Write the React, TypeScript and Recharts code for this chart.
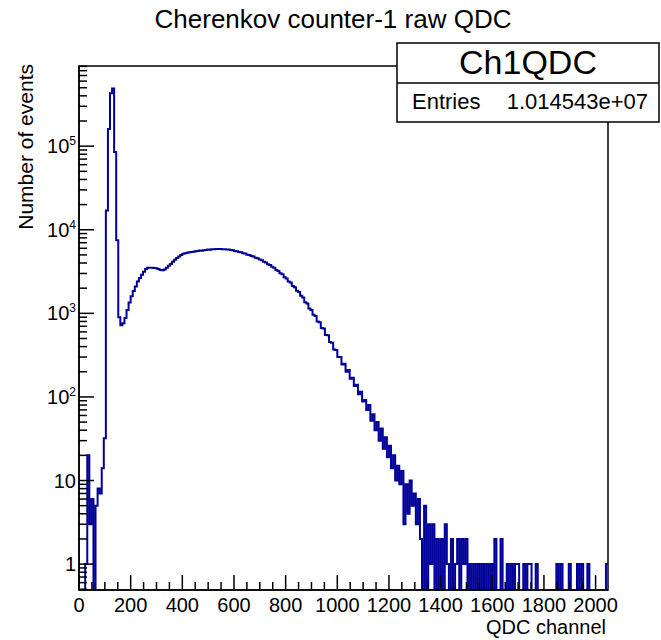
import React from "react";
import { LineChart, Line, XAxis, YAxis, ReferenceArea } from "recharts";

// QDC histogram, 8 channels per bin, 256 bins (0..2048)
const binWidth = 8;
const maxChannel = 2048;

// bins 0..20: pedestal region
const pedestalCounts = [
  0, 0, 0, 1, 20, 3, 6, 0, 5, 8,
  7, 14, 32, 17000, 160000, 430000, 490000, 85000, 7500, 900,
  720,
];

// bins 21..154: photoelectron hump
const signalCounts = [
  760, 880, 1100, 1350, 1600, 1850, 2100, 2400, 2650, 2900,
  3150, 3400, 3500, 3520, 3500, 3480, 3460, 3400, 3300, 3280,
  3350, 3500, 3700, 3900, 4150, 4380, 4580, 4800, 5000, 5150,
  5250, 5320, 5380, 5420, 5470, 5520, 5560, 5630, 5610, 5700,
  5720, 5790, 5780, 5850, 5840, 5900, 5870, 5890, 5840, 5860,
  5790, 5800, 5730, 5700, 5580, 5540, 5430, 5380, 5240, 5190,
  5040, 4990, 4850, 4780, 4620, 4560, 4400, 4330, 4150, 4070,
  3870, 3800, 3600, 3510, 3300, 3220, 3020, 2930, 2710, 2620,
  2410, 2340, 2130, 2050, 1860, 1800, 1620, 1550, 1360, 1310,
  1140, 1100, 960, 930, 800, 780, 670, 660, 550, 545,
  455, 445, 370, 365, 300, 300, 245, 250, 200, 210,
  165, 170, 135, 140, 108, 115, 88, 92, 70, 80,
  52, 62, 40, 50, 30, 42, 24, 33, 19, 26,
  14, 20, 10, 15,
];

// bins 155..255: sparse tail
const tailCounts = [
  9, 13, 3, 9, 4, 10, 5, 7, 3, 6,
  2, 0, 5, 0, 3, 1, 3, 0, 2, 0,
  2, 0, 3, 1, 0, 2, 0, 1, 2, 0,
  2, 1, 2, 0, 1, 0, 1, 0, 1, 0,
  1, 0, 1, 0, 1, 0, 2, 0, 0, 2,
  0, 0, 1, 0, 1, 0, 1, 1, 0, 0,
  1, 0, 1, 1, 0, 0, 1, 0, 0, 0,
  0, 0, 0, 0, 0, 0, 1, 0, 1, 0,
  0, 0, 1, 0, 0, 0, 1, 0, 1, 0,
  0, 1, 0, 0, 0, 0, 0, 0, 0, 0,
  1,
];

const xMajorTicks = [0, 200, 400, 600, 800, 1000, 1200, 1400, 1600, 1800, 2000];
const xMinorSteps = [50, 100, 150];
const yDecades = [1, 10, 100, 1000, 10000, 100000];
const yMinorFactors = [2, 3, 4, 5, 6, 7, 8, 9];
const yBelowOne = [0.5, 0.6, 0.7, 0.8, 0.9];
const yMin = 0.49;
const yMax = 910000;
const emptyBin = 0.3; // zero bins drop below the frame (log axis)

const counts = [...pedestalCounts, ...signalCounts, ...tailCounts];
const data = counts.map((c, i) => ({ ch: i * binWidth, n: c > 0 ? c : emptyBin }));
data.push({ ch: maxChannel, n: data[data.length - 1].n });

const xTicks: number[] = [];
xMajorTicks.forEach((t) => {
  xTicks.push(t);
  if (t < 2000) xMinorSteps.forEach((s) => xTicks.push(t + s));
});

const yTicks: number[] = [...yBelowOne];
yDecades.forEach((d) => {
  yTicks.push(d);
  yMinorFactors.forEach((f) => {
    if (d * f <= yMax) yTicks.push(d * f);
  });
});

const font = "'Liberation Sans', Arial, Helvetica, sans-serif";

const XTick = (props: any) => {
  const { x, y, payload } = props;
  const major = payload.value % 200 === 0;
  return (
    <g>
      <line x1={x} x2={x} y1={y} y2={y - (major ? 15 : 8)} stroke="#000" strokeWidth={1.5} />
      {major && (
        <text x={x} y={y + 22} textAnchor="middle" fontSize={20} fontFamily={font} fill="#000">
          {payload.value}
        </text>
      )}
    </g>
  );
};

const YTick = (props: any) => {
  const { x, y, payload } = props;
  const lg = Math.log10(payload.value);
  const e = Math.round(lg);
  const major = Math.abs(lg - e) < 1e-6;
  return (
    <g>
      <line x1={x} x2={x + (major ? 15 : 8)} y1={y} y2={y} stroke="#000" strokeWidth={1.5} />
      {major && (
        <text x={x - 3} y={y + 7} textAnchor="end" fontSize={20} fontFamily={font} fill="#000">
          {e === 0 ? "1" : "10"}
          {e > 1 && (
            <tspan dy={-8} fontSize={12}>
              {e}
            </tspan>
          )}
        </text>
      )}
    </g>
  );
};

export default function App() {
  return (
    <div style={{ position: "absolute", left: 0, top: 0, width: 661, height: 640, background: "#fff" }}>
      <LineChart
        width={661}
        height={640}
        data={data}
        margin={{ top: 66, right: 53, bottom: 0, left: 19 }}
      >
        <XAxis
          dataKey="ch"
          type="number"
          domain={[0, maxChannel]}
          ticks={xTicks}
          interval={0}
          tickSize={0}
          tickMargin={0}
          tickLine={false}
          tick={<XTick />}
          height={50}
          axisLine={{ stroke: "#000", strokeWidth: 1.5 }}
          allowDataOverflow
        />
        <YAxis
          type="number"
          scale="log"
          domain={[yMin, yMax]}
          ticks={yTicks}
          interval={0}
          tickSize={0}
          tickMargin={0}
          tickLine={false}
          tick={<YTick />}
          width={60}
          axisLine={{ stroke: "#000", strokeWidth: 1.5 }}
          allowDataOverflow
        />
        <ReferenceArea
          x1={0}
          x2={maxChannel}
          y1={yMin}
          y2={yMax}
          fill="none"
          stroke="#000"
          strokeWidth={1.5}
        />
        <Line
          dataKey="n"
          type="stepAfter"
          stroke="#000099"
          strokeWidth={2}
          dot={false}
          isAnimationActive={false}
        />
      </LineChart>
      <svg
        width={661}
        height={640}
        style={{ position: "absolute", left: 0, top: 0, pointerEvents: "none" }}
        fontFamily={font}
      >
        <text x={333} y={28} textAnchor="middle" fontSize={26} fill="#000">
          Cherenkov counter-1 raw QDC
        </text>
        <text transform="translate(33,64) rotate(-90)" textAnchor="end" fontSize={21} fill="#000">
          Number of events
        </text>
        <text x={606} y={634} textAnchor="end" fontSize={20} fill="#000">
          QDC channel
        </text>
        <rect x={397} y={43} width={262} height={79} fill="#fff" stroke="#000" strokeWidth={1.5} />
        <line x1={397} x2={659} y1={83} y2={83} stroke="#000" strokeWidth={1.5} />
        <text x={528} y={74} textAnchor="middle" fontSize={34} fill="#000">
          Ch1QDC
        </text>
        <text x={412} y={109} fontSize={22} fill="#000">
          Entries
        </text>
        <text x={648} y={109} textAnchor="end" fontSize={22} fill="#000">
          1.014543e+07
        </text>
      </svg>
    </div>
  );
}
